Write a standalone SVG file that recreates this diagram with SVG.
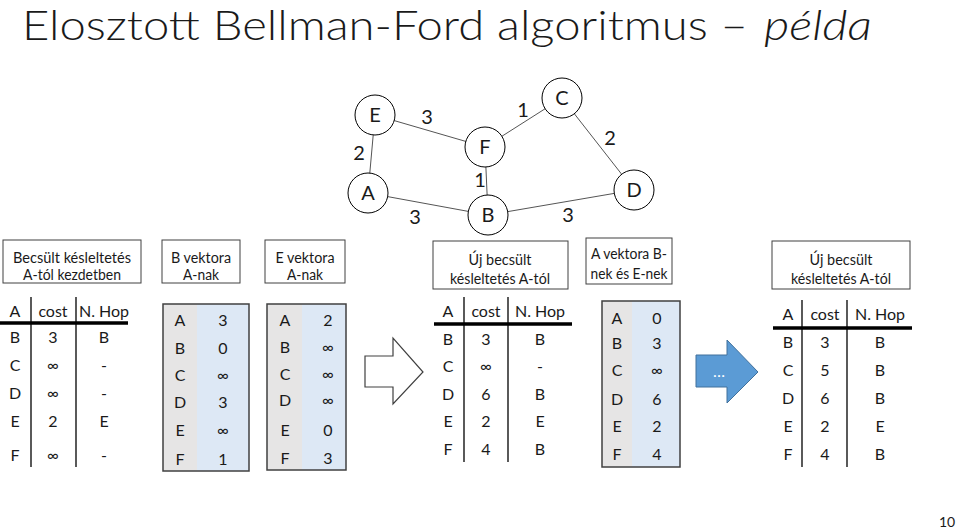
<svg xmlns="http://www.w3.org/2000/svg" width="960" height="530" viewBox="0 0 960 530">
<style>
text{font-family:Lato,"Open Sans","Liberation Sans",sans-serif;fill:#1a1a1a}
.title{font-size:42px;font-weight:300}
.lbl{font-size:15.5px;text-anchor:middle}
.node circle{fill:#fff;stroke:#000;stroke-width:1}
.node text{font-size:20px;text-anchor:middle}
.w{font-size:20px;text-anchor:middle}
.edge{stroke:#555;stroke-width:1}
.box{fill:#fff;stroke:#404040;stroke-width:1}
.t{font-size:16px;text-anchor:middle}
.tl{stroke:#000;stroke-width:1.3}
.th{stroke:#000;stroke-width:3.5}
.vec{fill:none;stroke:#404040;stroke-width:1.5}
.g{fill:#e6e5e5}
.b{fill:#dde8f5}
</style>
<rect width="960" height="530" fill="#fff"/>
<text class="title" x="22" y="40" textLength="726" lengthAdjust="spacingAndGlyphs">Elosztott Bellman-Ford algoritmus –</text>
<text class="title" x="764" y="40" font-style="italic" textLength="108" lengthAdjust="spacingAndGlyphs">példa</text>

<g id="connectors">
<line class="edge" x1="375" y1="115" x2="368" y2="193"/>
<line class="edge" x1="375" y1="115" x2="485" y2="147"/>
<line class="edge" x1="485" y1="147" x2="562" y2="98"/>
<line class="edge" x1="562" y1="98" x2="634" y2="190"/>
<line class="edge" x1="485" y1="147" x2="488" y2="215"/>
<line class="edge" x1="368" y1="193" x2="488" y2="215"/>
<line class="edge" x1="488" y1="215" x2="634" y2="190"/>
<text class="w" x="359" y="160">2</text>
<text class="w" x="427" y="124">3</text>
<text class="w" x="523" y="117">1</text>
<text class="w" x="610" y="145">2</text>
<text class="w" x="480" y="187">1</text>
<text class="w" x="415" y="224">3</text>
<text class="w" x="568" y="222">3</text>
</g>

<g id="node-E" class="node"><circle cx="375" cy="115" r="20"/><text x="375" y="122">E</text></g>
<g id="node-C" class="node"><circle cx="562" cy="98" r="20"/><text x="562" y="105">C</text></g>
<g id="node-F" class="node"><circle cx="485" cy="147" r="20"/><text x="485" y="154">F</text></g>
<g id="node-A" class="node"><circle cx="368" cy="193" r="20"/><text x="368" y="200">A</text></g>
<g id="node-B" class="node"><circle cx="488" cy="215" r="20"/><text x="488" y="222">B</text></g>
<g id="node-D" class="node"><circle cx="634" cy="190" r="20"/><text x="634" y="197">D</text></g>

<g id="labels">
<rect class="box" x="3" y="240" width="138" height="43"/>
<text class="lbl" x="72" y="263" textLength="118" lengthAdjust="spacingAndGlyphs">Becsült késleltetés</text>
<text class="lbl" x="72" y="280" textLength="98" lengthAdjust="spacingAndGlyphs">A-tól kezdetben</text>
<rect class="box" x="162" y="240" width="78" height="43"/>
<text class="lbl" x="201" y="263" textLength="60" lengthAdjust="spacingAndGlyphs">B vektora</text>
<text class="lbl" x="201" y="280" textLength="36" lengthAdjust="spacingAndGlyphs">A-nak</text>
<rect class="box" x="265" y="240" width="80" height="43"/>
<text class="lbl" x="305" y="263" textLength="59" lengthAdjust="spacingAndGlyphs">E vektora</text>
<text class="lbl" x="305" y="280" textLength="36" lengthAdjust="spacingAndGlyphs">A-nak</text>
<rect class="box" x="433" y="241" width="135" height="48"/>
<text class="lbl" x="500" y="265" textLength="63" lengthAdjust="spacingAndGlyphs">Új becsült</text>
<text class="lbl" x="500" y="284" textLength="100" lengthAdjust="spacingAndGlyphs">késleltetés A-tól</text>
<rect class="box" x="586" y="238" width="86" height="46"/>
<text class="lbl" x="629" y="259" textLength="76" lengthAdjust="spacingAndGlyphs">A vektora B-</text>
<text class="lbl" x="629" y="279" textLength="77" lengthAdjust="spacingAndGlyphs">nek és E-nek</text>
<rect class="box" x="772" y="241" width="138" height="48"/>
<text class="lbl" x="841" y="265" textLength="63" lengthAdjust="spacingAndGlyphs">Új becsült</text>
<text class="lbl" x="841" y="284" textLength="100" lengthAdjust="spacingAndGlyphs">késleltetés A-tól</text>
</g>

<g id="table-initial">
<line class="tl" x1="31" y1="297" x2="31" y2="467"/>
<line class="tl" x1="76" y1="297" x2="76" y2="467"/>
<line class="th" x1="0" y1="323" x2="128" y2="323"/>
<text class="t" x="15" y="317">A</text><text class="t" x="53" y="317">cost</text><text class="t" x="104" y="317">N. Hop</text>
<text class="t" x="15" y="343">B</text><text class="t" x="53" y="343">3</text><text class="t" x="104" y="343">B</text>
<text class="t" x="15" y="371">C</text><text class="t" x="53" y="371">∞</text><text class="t" x="104" y="371">-</text>
<text class="t" x="15" y="399">D</text><text class="t" x="53" y="399">∞</text><text class="t" x="104" y="399">-</text>
<text class="t" x="15" y="427">E</text><text class="t" x="53" y="427">2</text><text class="t" x="104" y="427">E</text>
<text class="t" x="15" y="461">F</text><text class="t" x="53" y="461">∞</text><text class="t" x="104" y="461">-</text>
</g>

<g id="vector-B">
<rect class="g" x="163" y="304" width="34" height="167"/>
<rect class="b" x="197" y="304" width="52" height="167"/>
<rect class="vec" x="163" y="304" width="86" height="167"/>
<text class="t" x="180" y="326">A</text><text class="t" x="223" y="326">3</text>
<text class="t" x="180" y="354">B</text><text class="t" x="223" y="354">0</text>
<text class="t" x="180" y="381">C</text><text class="t" x="223" y="381">∞</text>
<text class="t" x="180" y="408">D</text><text class="t" x="223" y="408">3</text>
<text class="t" x="180" y="436">E</text><text class="t" x="223" y="436">∞</text>
<text class="t" x="180" y="465">F</text><text class="t" x="223" y="465">1</text>
</g>

<g id="vector-E">
<rect class="g" x="267" y="304" width="35" height="166"/>
<rect class="b" x="302" y="304" width="44" height="166"/>
<rect class="vec" x="267" y="304" width="79" height="166"/>
<text class="t" x="285" y="326">A</text><text class="t" x="328" y="326">2</text>
<text class="t" x="285" y="353">B</text><text class="t" x="328" y="353">∞</text>
<text class="t" x="285" y="380">C</text><text class="t" x="328" y="380">∞</text>
<text class="t" x="285" y="406">D</text><text class="t" x="328" y="406">∞</text>
<text class="t" x="285" y="436">E</text><text class="t" x="328" y="436">0</text>
<text class="t" x="285" y="464">F</text><text class="t" x="328" y="464">3</text>
</g>

<g id="arrow-hollow">
<path d="M365 356 H393 V338 L423 372 L393 404 V387 H365 Z" fill="#fff" stroke="#404040" stroke-width="1.2"/>
</g>

<g id="table-new">
<line class="tl" x1="464" y1="297" x2="464" y2="462"/>
<line class="tl" x1="508" y1="297" x2="508" y2="462"/>
<line class="th" x1="434" y1="324" x2="572" y2="324"/>
<text class="t" x="448" y="317">A</text><text class="t" x="486" y="317">cost</text><text class="t" x="540" y="317">N. Hop</text>
<text class="t" x="448" y="345">B</text><text class="t" x="486" y="345">3</text><text class="t" x="540" y="345">B</text>
<text class="t" x="448" y="372">C</text><text class="t" x="486" y="372">∞</text><text class="t" x="540" y="372">-</text>
<text class="t" x="448" y="400">D</text><text class="t" x="486" y="400">6</text><text class="t" x="540" y="400">B</text>
<text class="t" x="448" y="427">E</text><text class="t" x="486" y="427">2</text><text class="t" x="540" y="427">E</text>
<text class="t" x="448" y="455">F</text><text class="t" x="486" y="455">4</text><text class="t" x="540" y="455">B</text>
</g>

<g id="vector-A">
<rect class="g" x="602" y="301" width="30" height="166"/>
<rect class="b" x="632" y="301" width="48" height="166"/>
<rect class="vec" x="602" y="301" width="78" height="166"/>
<text class="t" x="617" y="324">A</text><text class="t" x="657" y="324">0</text>
<text class="t" x="617" y="349">B</text><text class="t" x="657" y="349">3</text>
<text class="t" x="617" y="376">C</text><text class="t" x="657" y="376">∞</text>
<text class="t" x="617" y="405">D</text><text class="t" x="657" y="405">6</text>
<text class="t" x="617" y="432">E</text><text class="t" x="657" y="432">2</text>
<text class="t" x="617" y="460">F</text><text class="t" x="657" y="460">4</text>
</g>

<g id="arrow-blue">
<path d="M696 355 H727 V340 L758 372 L727 403 V387 H696 Z" fill="#5b9bd5" stroke="#41719c" stroke-width="1"/>
<text class="t" x="719" y="377" style="fill:#fff">…</text>
</g>

<g id="table-final">
<line class="tl" x1="802" y1="300" x2="802" y2="467"/>
<line class="tl" x1="847" y1="300" x2="847" y2="467"/>
<line class="th" x1="773" y1="328" x2="912" y2="328"/>
<text class="t" x="788" y="320">A</text><text class="t" x="825" y="320">cost</text><text class="t" x="880" y="320">N. Hop</text>
<text class="t" x="788" y="348">B</text><text class="t" x="825" y="348">3</text><text class="t" x="880" y="348">B</text>
<text class="t" x="788" y="376">C</text><text class="t" x="825" y="376">5</text><text class="t" x="880" y="376">B</text>
<text class="t" x="788" y="404">D</text><text class="t" x="825" y="404">6</text><text class="t" x="880" y="404">B</text>
<text class="t" x="788" y="432">E</text><text class="t" x="825" y="432">2</text><text class="t" x="880" y="432">E</text>
<text class="t" x="788" y="460">F</text><text class="t" x="825" y="460">4</text><text class="t" x="880" y="460">B</text>
</g>

<text x="947" y="527" style="font-size:14px;text-anchor:middle">10</text>
</svg>
